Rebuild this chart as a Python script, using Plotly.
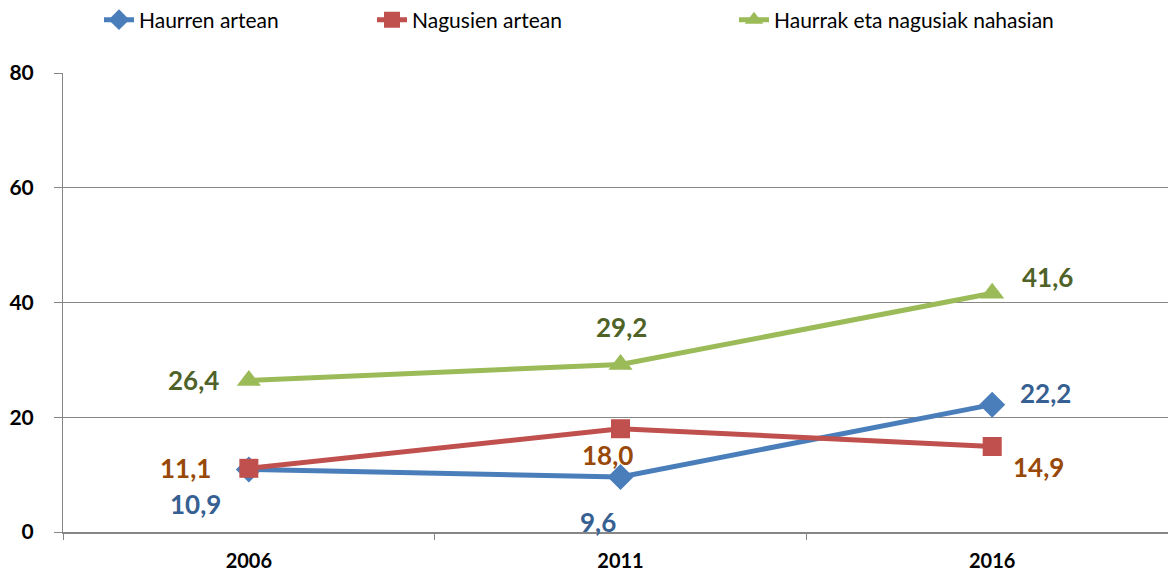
import plotly.graph_objects as go

years = ["2006", "2011", "2016"]
series_names = ["Haurren artean", "Nagusien artean", "Haurrak eta nagusiak nahasian"]
haurren = [10.9, 9.6, 22.2]
nagusien = [11.1, 18.0, 14.9]
nahasian = [26.4, 29.2, 41.6]
y_ticks = [0, 20, 40, 60, 80]

W, H = 1168, 573
FONT = "Lato"

series = [haurren, nagusien, nahasian]
line_colors = ["#4A7EBB", "#C0504D", "#9BBB59"]
label_colors = ["#376092", "#984807", "#4F6228"]
symbols = ["diamond", "square", "triangle-up"]
msizes = [20, 19, 21]
# label offsets in px (dx right, dy up) per series per year
offsets = [
    [(-53, -35), (-23, -45), (53, 12)],
    [(-63, 0), (-13, -26), (46, -20)],
    [(-55, 1), (1, 37), (55, 16)],
]
legend_x = [99, 372, 734]

fig = go.Figure()
annotations = []
for i, (name, vals) in enumerate(zip(series_names, series)):
    lg = "legend" if i == 0 else f"legend{i+1}"
    fig.add_trace(go.Scatter(
        x=years, y=vals, name=name, mode="lines+markers",
        line=dict(color=line_colors[i], width=5),
        marker=dict(symbol=symbols[i], size=msizes[i], color=line_colors[i]),
        legend=lg, hoverinfo="skip",
    ))
    for j, (yr, v) in enumerate(zip(years, vals)):
        dx, dy = offsets[i][j]
        annotations.append(dict(
            x=j, y=v, xref="x", yref="y", showarrow=False,
            text="<b>" + f"{v:.1f}".replace(".", ",") + "</b>", xshift=dx, yshift=dy,
            font=dict(family=FONT, size=26, color=label_colors[i]),
        ))

legend_common = dict(
    orientation="h", xref="container", yref="container",
    xanchor="left", yanchor="middle", y=1 - 20 / H,
    font=dict(family=FONT, size=21, color="#000000"),
    bgcolor="rgba(0,0,0,0)", borderwidth=0,
)

fig.update_layout(
    width=W, height=H,
    margin=dict(l=63, r=0, t=73, b=41),
    paper_bgcolor="white", plot_bgcolor="white",
    showlegend=True,
    legend=dict(**legend_common, x=legend_x[0] / W),
    legend2=dict(**legend_common, x=legend_x[1] / W),
    legend3=dict(**legend_common, x=legend_x[2] / W),
    annotations=annotations,
    xaxis=dict(
        type="category", range=[-0.5, 2.473],
        showline=True, linecolor="#868686", linewidth=2,
        ticks="outside", tickson="boundaries", ticklen=6, tickcolor="#868686", tickwidth=1,
        showgrid=False, zeroline=False,
        tickfont=dict(family=FONT, size=20, color="#000000", weight="bold"),
        ticklabelstandoff=10,
    ),
    yaxis=dict(
        range=[0, 80], tickvals=y_ticks,
        showline=True, linecolor="#868686", linewidth=1,
        showgrid=True, gridcolor="#868686", gridwidth=1,
        ticks="outside", ticklen=8, tickcolor="#868686",
        zeroline=False,
        tickfont=dict(family=FONT, size=21, color="#000000", weight="bold"),
        ticklabelstandoff=16,
    ),
)

fig.write_html("out.html", config={"displayModeBar": False},
               post_script="document.body.style.margin='0';")
